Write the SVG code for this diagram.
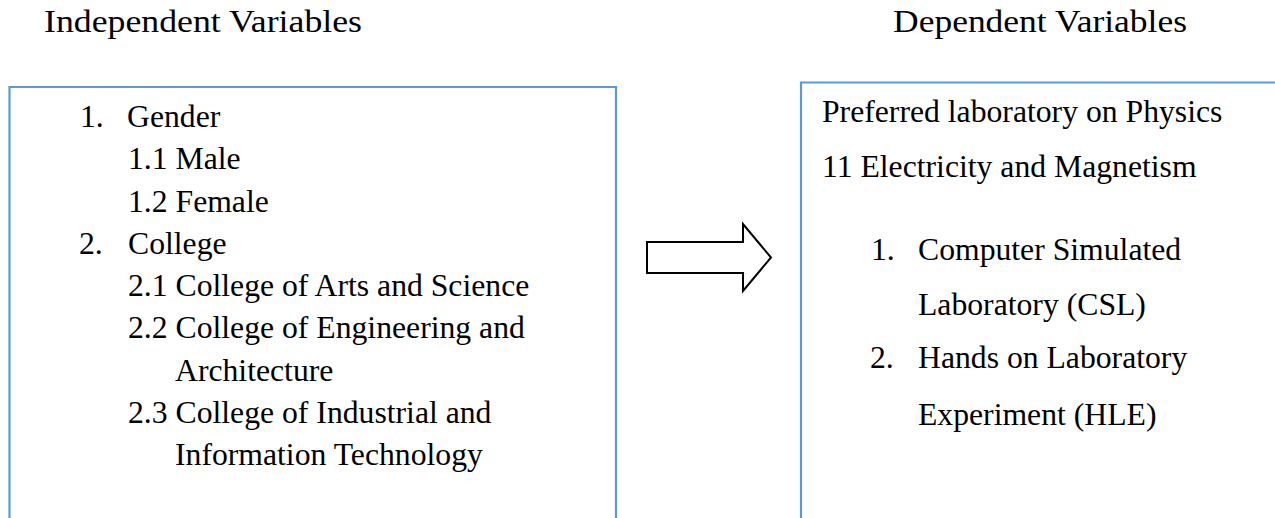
<svg xmlns="http://www.w3.org/2000/svg" width="1275" height="518" viewBox="0 0 1275 518">
  <style>
    .hdr { font-family: "Liberation Serif", "Times New Roman", serif; font-size: 31px; fill: #000; }
    .txt { font-family: "Liberation Serif", "Times New Roman", serif; font-size: 31.7px; fill: #000; }
    .box { fill: none; stroke: #5B9BD5; stroke-width: 2.2; }
    .arrow { fill: #fff; stroke: #000; stroke-width: 2; stroke-linejoin: miter; }
  </style>
  <rect width="1275" height="518" fill="#fff"/>

  <g id="header-independent">
    <text class="hdr" x="44" y="32" textLength="318" lengthAdjust="spacingAndGlyphs">Independent Variables</text>
  </g>
  <g id="header-dependent">
    <text class="hdr" x="893" y="32" textLength="294" lengthAdjust="spacingAndGlyphs">Dependent Variables</text>
  </g>

  <g id="node-independent">
    <path class="box" d="M9.5,530 V87 H616 V530"/>
    <text class="txt" x="80" y="127">1.</text>
    <text class="txt" x="127" y="127">Gender</text>
    <text class="txt" x="128" y="169">1.1 Male</text>
    <text class="txt" x="128" y="211.5">1.2 Female</text>
    <text class="txt" x="79" y="253.5">2.</text>
    <text class="txt" x="128" y="253.5">College</text>
    <text class="txt" x="128" y="296">2.1 College of Arts and Science</text>
    <text class="txt" x="128" y="338">2.2 College of Engineering and</text>
    <text class="txt" x="175" y="380.5">Architecture</text>
    <text class="txt" x="128" y="423">2.3 College of Industrial and</text>
    <text class="txt" x="175" y="465">Information Technology</text>
  </g>

  <g id="node-dependent">
    <path class="box" d="M801,530 V82.5 H1280"/>
    <text class="txt" x="822" y="122">Preferred laboratory on Physics</text>
    <text class="txt" x="822" y="177">11 Electricity and Magnetism</text>
    <text class="txt" x="871" y="260">1.</text>
    <text class="txt" x="918" y="260">Computer Simulated</text>
    <text class="txt" x="918" y="315">Laboratory (CSL)</text>
    <text class="txt" x="870" y="368">2.</text>
    <text class="txt" x="918" y="368">Hands on Laboratory</text>
    <text class="txt" x="918" y="425">Experiment (HLE)</text>
  </g>

  <g id="connectors">
    <path class="arrow" d="M647,242 H743 V224 L771,257.5 L743,291 V273 H647 Z"/>
  </g>
</svg>
